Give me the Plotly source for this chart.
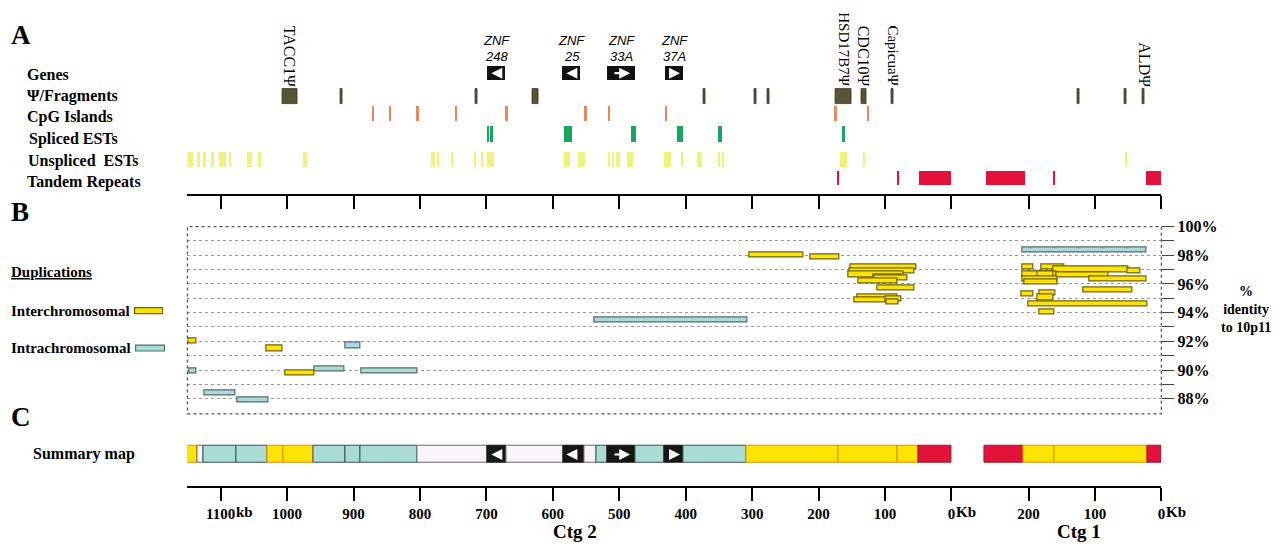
import plotly.graph_objects as go

# ---------------- data (positions in kb, per contig) ----------------
# each span: (contig, start_kb, end_kb); contig 2 runs 1150 kb -> 0, contig 1 runs 266 kb -> 0

genes = [(2, 698, 671, "248", "left"), (2, 585, 558, "25", "left"),
         (2, 518, 475, "33A", "right"), (2, 431, 403, "37A", "right")]

psi_fragments = [(2, 1007, 985), (2, 920, 917), (2, 717, 714), (2, 630, 621),
                 (2, 373, 370), (2, 296, 293), (2, 277, 274), (2, 175, 150),
                 (2, 136, 128), (2, 90, 87), (1, 126, 123), (1, 56, 53), (1, 28, 25)]
psi_labels = [(2, 996, "TACC1Ψ"), (2, 163, "HSD17B7Ψ"), (2, 132, "CDC10Ψ"),
              (2, 88, "CapicuaΨ"), (1, 26, "ALDΨ")]

cpg_islands = [(2, 871, 868), (2, 846, 843), (2, 804, 801), (2, 746, 743),
               (2, 670, 667), (2, 551, 548), (2, 516, 513), (2, 431, 428),
               (2, 175, 172), (2, 126, 123)]

spliced_ests = [(2, 699, 696), (2, 693, 690), (2, 582, 571), (2, 482, 474),
                (2, 412, 404), (2, 351, 345), (2, 163, 160)]

unspliced_ests = [(2, 1150, 1141), (2, 1134, 1131), (2, 1126, 1121), (2, 1113, 1110),
                  (2, 1102, 1091), (2, 1087, 1084), (2, 1059, 1052), (2, 1042, 1039),
                  (2, 976, 969), (2, 783, 777), (2, 773, 771), (2, 752, 750),
                  (2, 718, 715), (2, 707, 704), (2, 698, 688), (2, 582, 573),
                  (2, 562, 551), (2, 517, 513), (2, 511, 508), (2, 504, 499),
                  (2, 487, 478), (2, 432, 421), (2, 406, 404), (2, 383, 375),
                  (2, 350, 347), (2, 344, 342), (2, 167, 157), (2, 132, 129),
                  (1, 54, 51)]

tandem_repeats = [(2, 171, 169), (2, 81, 79), (2, 48, 0),
                  (1, 264, 205), (1, 161, 159), (1, 22, 0)]

# duplications: (contig, start_kb, end_kb, % identity to 10p11)
interchromosomal = [
    (2, 1148, 1136, 92.0), (2, 1031, 1007, 91.5), (2, 1003, 959, 89.8),
    (2, 304, 223, 98.0), (2, 212, 168, 97.9), (2, 152, 53, 97.2),
    (2, 154, 55, 96.9), (2, 155, 72, 96.65), (2, 117, 75, 96.5),
    (2, 116, 66, 96.4), (2, 140, 82, 96.2), (2, 112, 55, 95.7),
    (2, 142, 82, 95.1), (2, 146, 80, 94.9), (2, 100, 75, 94.95),
    (2, 98, 80, 94.75),
    (1, 209, 192, 97.2), (1, 181, 146, 97.2), (1, 163, 49, 97.0),
    (1, 51, 32, 96.9), (1, 209, 158, 96.65), (1, 186, 162, 96.65),
    (1, 158, 80, 96.6), (1, 209, 157, 96.35), (1, 108, 22, 96.35),
    (1, 206, 157, 96.15), (1, 117, 44, 95.6), (1, 210, 192, 95.3),
    (1, 183, 160, 95.35), (1, 187, 162, 95.05), (1, 200, 21, 94.6),
    (1, 184, 161, 94.05)]
intrachromosomal = [
    (2, 912, 890, 91.7), (2, 1147, 1136, 89.95), (2, 959, 914, 90.05),
    (2, 888, 804, 89.9), (2, 1124, 1078, 88.4), (2, 1075, 1028, 87.9),
    (2, 537, 307, 93.5), (1, 209, 23, 98.35)]

# summary map: segment boundaries (kb) and classes
summary_ctg2_bounds = [1150, 1135, 1126, 1076, 1029, 1006, 960, 912, 889, 804, 698,
                       670, 584, 553, 534, 518, 475, 432, 404, 309, 170, 81, 50, 0]
summary_ctg2_class = ["inter", "none", "intra", "intra", "inter", "inter", "intra",
                      "intra", "intra", "none", "gene", "none", "gene", "none",
                      "intra", "gene", "intra", "gene", "intra", "inter", "inter",
                      "inter", "repeat"]
summary_ctg1_bounds = [266, 207, 161, 21, 0]
summary_ctg1_class = ["repeat", "inter", "inter", "repeat"]

ctg2_ticks = [1100, 1000, 900, 800, 700, 600, 500, 400, 300, 200, 100, 0]
ctg1_ticks = [200, 100, 0]

# ---------------- styling / layout helpers ----------------
W, H = 1280, 546
SHIFT_X, SHIFT_Y = 8, 12   # page offset in front of the plot div
CTG2_LEN = 1150
CTG1_ZERO = 1466
SERIF = "Liberation Serif, Times New Roman, serif"
SANS = "Liberation Sans, Arial, sans-serif"

YELLOW = "#ffe400"
CYAN = "#a9dcd7"
RED = "#e2123b"
class_color = {"inter": YELLOW, "intra": CYAN, "none": "#f9f4f8",
               "gene": "#161616", "repeat": RED}
class_line = {"inter": "#e08a10", "intra": "#3d5252", "none": "#6a6a6a",
              "gene": "#161616", "repeat": "#8a2030"}


def pos(contig, kb):
    return CTG2_LEN - kb if contig == 2 else CTG1_ZERO - kb


def py(screen_y):
    return 1 - (screen_y - SHIFT_Y) / H


def px(screen_x):
    return (screen_x - SHIFT_X) / W


def span_bar(spans, y, height, color, xaxis, yaxis, line_color=None, line_width=0):
    base = [pos(s[0], s[1]) for s in spans]
    length = [pos(s[0], s[2]) - pos(s[0], s[1]) for s in spans]
    return go.Bar(orientation="h", base=base, x=length, y=[y] * len(spans),
                  width=height, xaxis=xaxis, yaxis=yaxis, hoverinfo="skip",
                  marker=dict(color=color, line=dict(color=line_color or color,
                                                     width=line_width)))


def label(text, sx, sy, size=16, xanchor="left", family=SERIF, **kw):
    return dict(x=px(sx), y=py(sy), xref="paper", yref="paper", text=text,
                showarrow=False, xanchor=xanchor, yanchor="middle",
                font=dict(family=family, size=size, color="black"), **kw)


fig = go.Figure()

# ---- panel A tracks (y axis in screen-pixel rows) ----
ROW = {"genes": 70, "psi": 93.5, "cpg": 111, "spliced": 131.5,
       "unspliced": 157.5, "tandem": 176.5}
fig.add_trace(span_bar([(g[0], g[1], g[2]) for g in genes], ROW["genes"], 14,
                       "#111111", "x2", "y"))
fig.add_trace(span_bar(psi_fragments, ROW["psi"], 15, "#5a5334", "x2", "y",
                       "#3b3620", 0.8))
fig.add_trace(span_bar(cpg_islands, ROW["cpg"], 15, "#e8875e", "x2", "y"))
fig.add_trace(span_bar(spliced_ests, ROW["spliced"], 16, "#16a85a", "x2", "y"))
fig.add_trace(span_bar(unspliced_ests, ROW["unspliced"], 15, "#f4f07c", "x2", "y"))
fig.add_trace(span_bar(tandem_repeats, ROW["tandem"], 14, RED, "x2", "y"))

# ---- panel B duplications ----
fig.add_trace(go.Bar(
    orientation="h", base=[pos(c, s) for c, s, e, v in intrachromosomal],
    x=[pos(c, e) - pos(c, s) for c, s, e, v in intrachromosomal],
    y=[v for c, s, e, v in intrachromosomal], width=0.36, xaxis="x", yaxis="y2",
    marker=dict(color=CYAN, line=dict(color="#596a6a", width=1.2)), hoverinfo="skip"))
fig.add_trace(go.Bar(
    orientation="h", base=[pos(c, s) for c, s, e, v in interchromosomal],
    x=[pos(c, e) - pos(c, s) for c, s, e, v in interchromosomal],
    y=[v for c, s, e, v in interchromosomal], width=0.36, xaxis="x", yaxis="y2",
    marker=dict(color=YELLOW, line=dict(color="#6e6212", width=1.2)), hoverinfo="skip"))

# ---- panel C summary map ----
seg_base, seg_len, seg_col, seg_line = [], [], [], []
for contig, bounds, classes in [(2, summary_ctg2_bounds, summary_ctg2_class),
                                (1, summary_ctg1_bounds, summary_ctg1_class)]:
    for i, cls in enumerate(classes):
        seg_base.append(pos(contig, bounds[i]))
        seg_len.append(pos(contig, bounds[i + 1]) - pos(contig, bounds[i]))
        seg_col.append(class_color[cls])
        seg_line.append(class_line[cls])
SUMMARY_Y = 457
fig.add_trace(go.Bar(orientation="h", base=seg_base, x=seg_len,
                     y=[SUMMARY_Y] * len(seg_base), width=17, xaxis="x", yaxis="y3",
                     marker=dict(color=seg_col, line=dict(color=seg_line, width=1)),
                     hoverinfo="skip"))

annotations = []
shapes = []

# gene arrows (panel A boxes and summary map) and ZNF names
for contig, s, e, name, direction in genes:
    a, b = pos(contig, s), pos(contig, e)
    inset = (b - a) * 0.2
    tail, head = (b - inset, a + inset) if direction == "left" else (a + inset, b - inset)
    for xr, yr, yv in [("x2", "y", ROW["genes"]), ("x", "y3", SUMMARY_Y)]:
        annotations.append(dict(x=head, y=yv, ax=tail, ay=yv, xref=xr, yref=yr,
                                axref=xr, ayref=yr, text="", showarrow=True,
                                arrowhead=2, arrowsize=1, arrowwidth=2.2,
                                arrowcolor="white"))
    for txt, yv in [("ZNF", 37), (name, 53)]:
        annotations.append(dict(x=(a + b) / 2, y=yv, xref="x2", yref="y",
                                text="<i>%s</i>" % txt, showarrow=False,
                                xanchor="center", yanchor="middle",
                                font=dict(family=SANS, size=13, color="black")))

for contig, kb, name in psi_labels:
    size = 15 if len(name) > 7 else 16
    annotations.append(dict(x=pos(contig, kb), y=86, xref="x2", yref="y", text=name,
                            textangle=90, showarrow=False, xanchor="center",
                            yanchor="bottom",
                            font=dict(family=SERIF, size=size, color="black")))

# left-hand labels
left_labels = [("Genes", 25, 71, 16), ("Ψ/Fragments", 25, 93, 16),
               ("CpG Islands", 25, 114, 16), ("Spliced ESTs", 27, 136.5, 16),
               ("Unspliced\u00a0 ESTs", 26, 159, 16), ("Tandem Repeats", 25, 180.5, 16),
               ("<u>Duplications</u>", 9, 272, 15), ("Interchromosomal", 9, 311, 15),
               ("Intrachromosomal", 9, 349, 15), ("Summary map", 31, 457, 16)]
for text, lx, ly, size in left_labels:
    annotations.append(label("<b>%s</b>" % text, lx, ly, size=size))
for text, ly in [("A", 31), ("B", 211), ("C", 419)]:
    annotations.append(label("<b>%s</b>" % text, 9, ly, size=27))

annotations.append(label("<b>%<br>identity<br>to 10p11</b>", 1250, 310, size=14,
                         xanchor="center"))
for text, cx in [("Ctg 2", 577), ("Ctg 1", 1082)]:
    annotations.append(label("<b>%s</b>" % text, cx, 535, size=19, xanchor="center"))
# unit suffixes on the bottom axis
for contig, kb, unit, shift in [(2, 1100, "kb", 13), (2, 0, "Kb", 3), (1, 0, "Kb", 3)]:
    annotations.append(dict(x=pos(contig, kb), y=py(515), xref="x", yref="paper",
                            text="<b>%s</b>" % unit, showarrow=False, xanchor="left",
                            yanchor="middle", xshift=shift,
                            font=dict(family=SERIF, size=15, color="black")))

# legend swatches
shapes.append(dict(type="rect", xref="paper", yref="paper", x0=px(135), x1=px(163),
                   y0=py(314), y1=py(308), fillcolor=YELLOW,
                   line=dict(color="#6e6212", width=1.2)))
shapes.append(dict(type="rect", xref="paper", yref="paper", x0=px(136), x1=px(165),
                   y0=py(352), y1=py(346), fillcolor=CYAN,
                   line=dict(color="#596a6a", width=1.2)))
# dotted frame of panel B
shapes.append(dict(type="rect", xref="x domain", yref="y2 domain", x0=0, x1=1,
                   y0=0, y1=1, line=dict(color="#555555", width=1.3, dash="dot")))

tick_u = [pos(2, k) for k in ctg2_ticks] + [pos(1, k) for k in ctg1_ticks]
tick_txt = ["<b>%d</b>" % k for k in ctg2_ticks] + ["<b>%d</b>" % k for k in ctg1_ticks]
axis_common = dict(range=[0, CTG1_ZERO], domain=[px(188), px(1165)], showgrid=False,
                   zeroline=False, showline=True, linecolor="black", linewidth=2,
                   ticks="outside", ticklen=13, tickwidth=1.5, tickcolor="black",
                   tickvals=tick_u, fixedrange=True)

identity_ticks = list(range(88, 101))
fig.update_layout(
    width=W, height=H, margin=dict(l=0, r=0, t=0, b=0),
    paper_bgcolor="white", plot_bgcolor="white", showlegend=False,
    barmode="overlay", bargap=0,
    xaxis=dict(**axis_common, anchor="y3", ticktext=tick_txt,
               tickfont=dict(family=SERIF, size=15, color="black")),
    xaxis2=dict(**axis_common, anchor="y", matches="x", showticklabels=False),
    yaxis=dict(domain=[py(193), 1], range=[193, SHIFT_Y], visible=False, anchor="x2",
               fixedrange=True),
    yaxis2=dict(domain=[py(415.7), py(225.7)], range=[86.95, 100], anchor="x",
                side="right", tickvals=identity_ticks,
                ticktext=["<b>%d%%</b>" % v if v % 2 == 0 else "" for v in identity_ticks],
                ticks="outside", ticklen=12, tickwidth=1.3, tickcolor="#444444",
                tickfont=dict(family=SERIF, size=16, color="black"),
                showgrid=True, gridcolor="#9a9a9a", griddash="dot", gridwidth=1,
                zeroline=False, showline=False, fixedrange=True),
    yaxis3=dict(domain=[py(489), py(440)], range=[489, 440], visible=False,
                anchor="x", fixedrange=True),
    annotations=annotations, shapes=shapes,
)

fig.write_html("out.html")
